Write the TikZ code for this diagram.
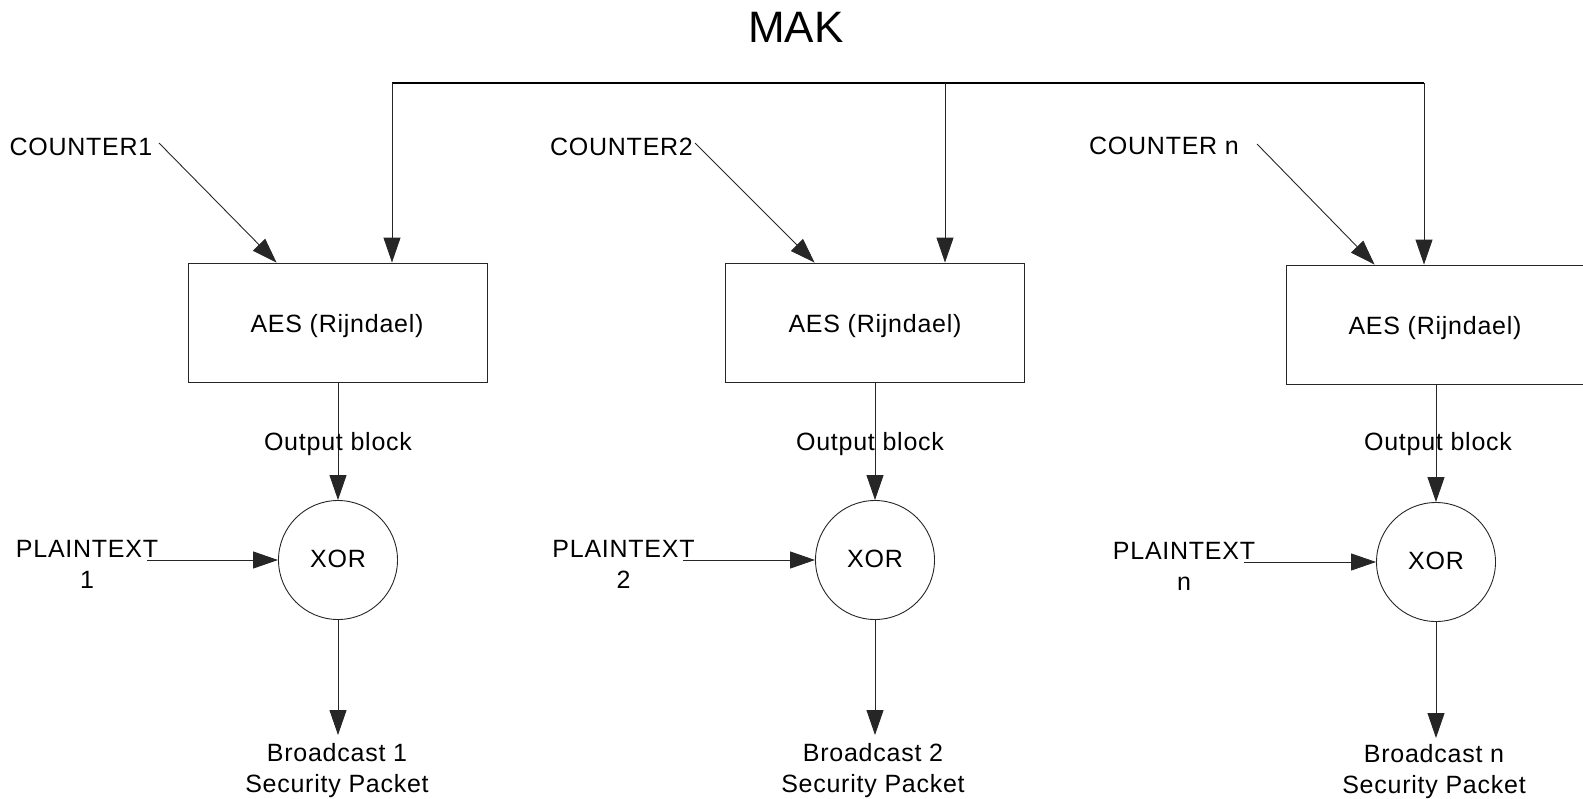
\documentclass[tikz,border=0pt]{standalone}
\usepackage{fontspec}
\setmainfont{Liberation Sans}
\newfontfamily\lblfont[LetterSpace=3]{Liberation Sans}
\usetikzlibrary{arrows.meta,calc}

\tikzset{
  wire/.style={line width=0.9bp, draw=black!85, -{Triangle[length=25bp,width=17bp]}},
  bus/.style={line width=2bp, draw=black},
  aesbox/.style={draw=black!85, line width=0.9bp, rectangle, minimum width=299bp, minimum height=119bp, inner sep=0pt},
  xorgate/.style={draw=black!85, line width=0.9bp, circle, minimum size=119bp, inner sep=0pt},
  lbl/.style={inner sep=0pt, font=\lblfont\fontsize{25bp}{31bp}\selectfont, align=center},
}

\begin{document}
\begin{tikzpicture}[x=1bp, y=-1bp]
  \useasboundingbox (0,0) rectangle (1583,798);
  \clip (0,0) rectangle (1583,798);

  % key distribution bus
  \node[inner sep=0pt, font=\fontsize{44bp}{50bp}\selectfont] (mak) at (796,27) {MAK};
  \coordinate (bus1) at (392,83);
  \coordinate (bus2) at (945,83);
  \coordinate (bus3) at (1424,83);
  \draw[bus] (bus1) -- (bus3);

  % cipher blocks
  \node[aesbox] (aes1) at (337.5,322.5) {};
  \node[aesbox] (aes2) at (874.5,322.5) {};
  \node[aesbox] (aes3) at (1435.5,324.5) {};
  \node[lbl, anchor=base] (aest1) at (337,332) {AES (Rijndael)};
  \node[lbl, anchor=base] (aest2) at (875,332) {AES (Rijndael)};
  \node[lbl, anchor=base] (aest3) at (1435,334) {AES (Rijndael)};

  \draw[wire] (bus1) -- (bus1 |- aes1.north);
  \draw[wire] (bus2) -- (bus2 |- aes2.north);
  \draw[wire] (bus3) -- (bus3 |- aes3.north);

  % counters
  \node[lbl, anchor=base] (c1) at (81,155) {COUNTER1};
  \node[lbl, anchor=base] (c2) at (621.5,155) {COUNTER2};
  \node[lbl, anchor=base] (c3) at (1164,154) {COUNTER n};
  \coordinate (c1s) at (159,143);
  \coordinate (c2s) at (695,143);
  \coordinate (c3s) at (1257,144);
  \draw[wire] (c1s) -- ($(aes1.north west)+(89,0)$);
  \draw[wire] (c2s) -- ($(aes2.north west)+(90,0)$);
  \draw[wire] (c3s) -- ($(aes3.north west)+(89,0)$);

  % XOR stages
  \node[xorgate] (xor1) at (338,560) {};
  \node[xorgate] (xor2) at (875,560) {};
  \node[xorgate] (xor3) at (1436,562) {};
  \node[lbl] (xt1) at (338,558.5) {XOR};
  \node[lbl] (xt2) at (875,558.5) {XOR};
  \node[lbl] (xt3) at (1436,560.5) {XOR};

  \draw[wire] (aes1.south -| xor1) -- (xor1.north);
  \draw[wire] (aes2.south -| xor2) -- (xor2.north);
  \draw[wire] (aes3.south -| xor3) -- (xor3.north);
  \node[lbl, anchor=base] (ob1) at (338,450) {Output block};
  \node[lbl, anchor=base] (ob2) at (870,450) {Output block};
  \node[lbl, anchor=base] (ob3) at (1438,450) {Output block};

  % plaintext inputs (base anchor sits on the last line)
  \node[lbl, anchor=base] (p1) at (87,588) {PLAINTEXT\\1};
  \node[lbl, anchor=base] (p2) at (623.5,588) {PLAINTEXT\\2};
  \node[lbl, anchor=base] (p3) at (1184,590) {PLAINTEXT\\n};
  \coordinate (p1s) at (147,560);
  \coordinate (p2s) at (683,560);
  \coordinate (p3s) at (1244,562);
  \draw[wire] (p1s) -- (xor1.west);
  \draw[wire] (p2s) -- (xor2.west);
  \draw[wire] (p3s) -- (xor3.west);

  % encrypted outputs
  \coordinate (o1) at (338,735);
  \coordinate (o2) at (875,735);
  \coordinate (o3) at (1436,738);
  \draw[wire] (xor1.south) -- (o1);
  \draw[wire] (xor2.south) -- (o2);
  \draw[wire] (xor3.south) -- (o3);
  \node[lbl, anchor=base] (b1) at (337,792) {Broadcast 1\\Security Packet};
  \node[lbl, anchor=base] (b2) at (873,792) {Broadcast 2\\Security Packet};
  \node[lbl, anchor=base] (b3) at (1434,793) {Broadcast n\\Security Packet};
\end{tikzpicture}
\end{document}
